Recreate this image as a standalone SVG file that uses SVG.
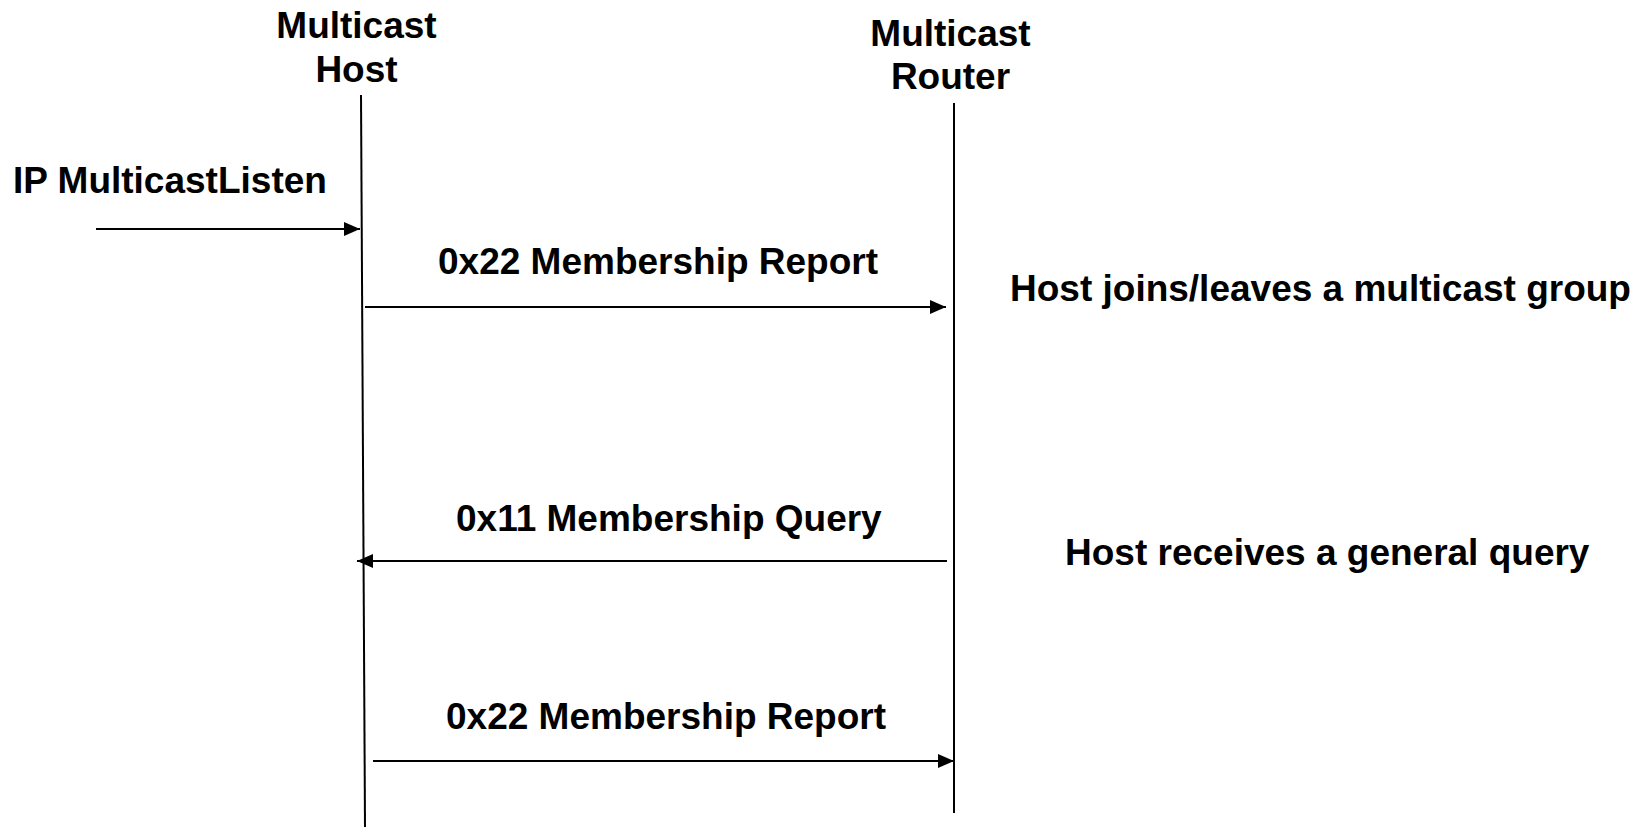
<svg xmlns="http://www.w3.org/2000/svg" width="1644" height="827" viewBox="0 0 1644 827">
<style>
text{font-family:"Liberation Sans",Arial,sans-serif;font-weight:bold;font-size:37px;fill:#000}
.life{stroke:#000;stroke-width:2;fill:none}
.msg{stroke:#000;stroke-width:2;fill:none;marker-end:url(#ah)}
</style>
<defs>
<marker id="ah" viewBox="0 0 16 14" refX="16" refY="7" markerWidth="16" markerHeight="14" markerUnits="userSpaceOnUse" orient="auto">
<path d="M0,0 L16,7 L0,14 z" fill="#000"/>
</marker>
</defs>
<rect width="1644" height="827" fill="#fff"/>
<g id="host">
<text x="356.5" y="38" text-anchor="middle">Multicast</text>
<text x="356.5" y="82" text-anchor="middle">Host</text>
<line class="life" x1="361" y1="95" x2="365" y2="827"/>
</g>
<g id="router">
<text x="950.5" y="46" text-anchor="middle">Multicast</text>
<text x="950.5" y="89" text-anchor="middle">Router</text>
<line class="life" x1="954" y1="103" x2="954" y2="813"/>
</g>
<g id="connectors">
<line class="msg" x1="96" y1="229" x2="360" y2="229"/>
<line class="msg" x1="365" y1="307" x2="946" y2="307"/>
<line class="msg" x1="947" y1="561" x2="357" y2="561"/>
<line class="msg" x1="373" y1="761" x2="954" y2="761"/>
</g>
<g id="labels">
<text x="13" y="193">IP MulticastListen</text>
<text x="438" y="274">0x22 Membership Report</text>
<text x="456" y="531">0x11 Membership Query</text>
<text x="446" y="729">0x22 Membership Report</text>
<text x="1010" y="301">Host joins/leaves a multicast group</text>
<text x="1065" y="565">Host receives a general query</text>
</g>
</svg>
